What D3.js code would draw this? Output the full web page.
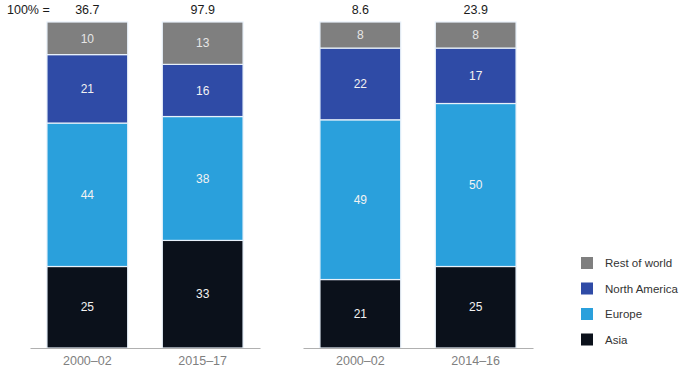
<!DOCTYPE html>
<html>
<head>
<meta charset="utf-8">
<script src="https://cdn.jsdelivr.net/npm/d3@7"></script>
<style>
  html, body { margin: 0; padding: 0; background: #fff; }
  svg { display: block; font-family: "Liberation Sans", Arial, Helvetica, sans-serif; }
</style>
</head>
<body>
<svg id="chart" width="683" height="368"></svg>
<script>
// ---- data ----
const series = ["Asia", "Europe", "North America", "Rest of world"];
const legendOrder = ["Rest of world", "North America", "Europe", "Asia"];
const colors = ["#0b111b", "#2aa0dc", "#2f4ba6", "#7f7f7f"];

const leftPeriods = ["2000–02", "2015–17"];
const leftTotals = ["36.7", "97.9"];
const leftAsia = [25, 33];
const leftEurope = [44, 38];
const leftNorthAmerica = [21, 16];
const leftRest = [10, 13];

const rightPeriods = ["2000–02", "2014–16"];
const rightTotals = ["8.6", "23.9"];
const rightAsia = [21, 25];
const rightEurope = [49, 50];
const rightNorthAmerica = [22, 17];
const rightRest = [8, 8];

// ---- layout ----
const svg = d3.select("#chart");
const yTop = 22, yBase = 348;
const y = d3.scaleLinear().domain([0, 100]).range([yBase, yTop]);
const color = d3.scaleOrdinal().domain(series).range(colors);

function buildRows(periods, a, e, n, r) {
  return periods.map((p, i) => ({ period: p, "Asia": a[i], "Europe": e[i], "North America": n[i], "Rest of world": r[i] }));
}

const panels = [
  { periods: leftPeriods, totals: leftTotals, rows: buildRows(leftPeriods, leftAsia, leftEurope, leftNorthAmerica, leftRest), range: [30, 260] },
  { periods: rightPeriods, totals: rightTotals, rows: buildRows(rightPeriods, rightAsia, rightEurope, rightNorthAmerica, rightRest), range: [303, 533] }
];

const stack = d3.stack().keys(series);

panels.forEach((pn, pi) => {
  const x = d3.scaleBand().domain(pn.periods).range(pn.range).paddingInner(0.30).paddingOuter(0.147);
  const g = svg.append("g");
  const stacked = stack(pn.rows);

  stacked.forEach(layer => {
    const key = layer.key;
    g.selectAll(null).data(layer).enter().append("rect")
      .attr("x", d => x(d.data.period))
      .attr("width", x.bandwidth())
      .attr("y", d => y(d[1]))
      .attr("height", d => y(d[0]) - y(d[1]))
      .attr("fill", color(key))
      .attr("stroke", "#e8f1fa")
      .attr("stroke-width", 1.2);
    g.selectAll(null).data(layer).enter().append("text")
      .attr("x", d => x(d.data.period) + x.bandwidth() / 2)
      .attr("y", d => (y(d[0]) + y(d[1])) / 2)
      .attr("dy", "0.35em")
      .attr("text-anchor", "middle")
      .attr("font-size", 12)
      .attr("fill", key === "Rest of world" ? "#e6e6e6" : "#f2f2f2")
      .text(d => d.data[key]);
  });

  // totals
  g.selectAll(null).data(pn.periods).enter().append("text")
    .attr("x", (d) => x(d) + x.bandwidth() / 2)
    .attr("y", 14)
    .attr("text-anchor", "middle")
    .attr("font-size", 12.5)
    .attr("fill", "#1a1a1a")
    .text((d, i) => pn.totals[i]);

  // axis
  const axis = d3.axisBottom(x).tickSize(0).tickPadding(8);
  const ag = g.append("g").attr("transform", `translate(0,${yBase})`).call(axis);
  ag.select(".domain").attr("stroke", "#b0b0b0").attr("stroke-width", 1.2);
  ag.selectAll("text").attr("font-size", 12.5).attr("fill", "#808080")
    .attr("font-family", "'Liberation Sans', Arial, sans-serif");
});

svg.append("text").attr("x", 7).attr("y", 14).attr("font-size", 12.5).attr("fill", "#1a1a1a").text("100% =");

// legend
const lg = svg.append("g").attr("transform", "translate(581,257)");
legendOrder.forEach((k, i) => {
  const row = lg.append("g").attr("transform", `translate(0,${i * 25.5})`);
  row.append("rect").attr("width", 12).attr("height", 12).attr("fill", color(k));
  row.append("text").attr("x", 24).attr("y", 6).attr("dy", "0.35em")
    .attr("font-size", 11.5).attr("fill", "#333").text(k);
});
</script>
</body>
</html>
